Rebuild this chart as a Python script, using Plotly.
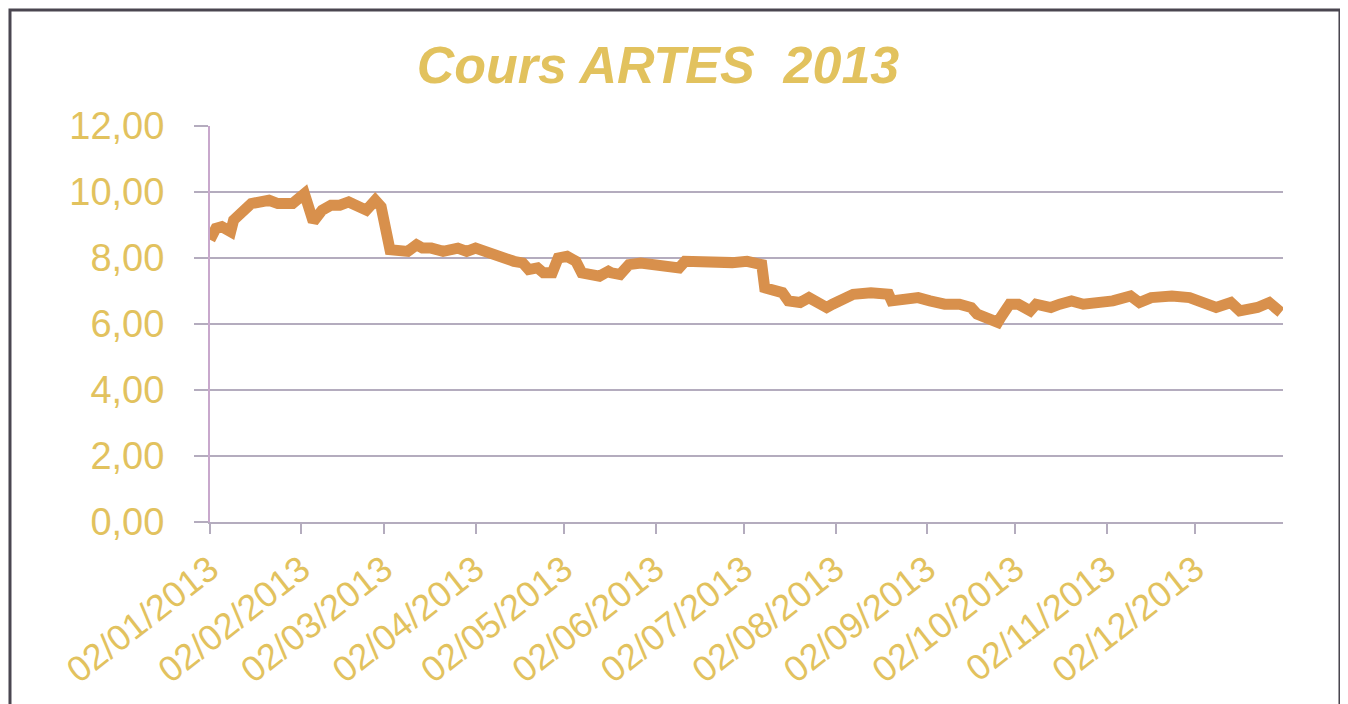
import plotly.graph_objects as go

dates = [
    "2013-01-02", "2013-01-04", "2013-01-06", "2013-01-09", "2013-01-10", "2013-01-13",
    "2013-01-16", "2013-01-22", "2013-01-25", "2013-01-30", "2013-02-01", "2013-02-03",
    "2013-02-06", "2013-02-09", "2013-02-12", "2013-02-15", "2013-02-18", "2013-02-22",
    "2013-02-24", "2013-02-27", "2013-03-01", "2013-03-04", "2013-03-07", "2013-03-10",
    "2013-03-13", "2013-03-15", "2013-03-18", "2013-03-22", "2013-03-27", "2013-03-30",
    "2013-04-02", "2013-04-07", "2013-04-10", "2013-04-15", "2013-04-18", "2013-04-20",
    "2013-04-23", "2013-04-25", "2013-04-28", "2013-04-30", "2013-05-03", "2013-05-06",
    "2013-05-08", "2013-05-13", "2013-05-14", "2013-05-17", "2013-05-18", "2013-05-21",
    "2013-05-24", "2013-05-28", "2013-06-01", "2013-06-06", "2013-06-10", "2013-06-12",
    "2013-06-17", "2013-06-23", "2013-06-28", "2013-07-03", "2013-07-08", "2013-07-09",
    "2013-07-13", "2013-07-15", "2013-07-17", "2013-07-21", "2013-07-24", "2013-07-28",
    "2013-07-30", "2013-08-01", "2013-08-04", "2013-08-08", "2013-08-14", "2013-08-20",
    "2013-08-21", "2013-08-25", "2013-08-30", "2013-09-03", "2013-09-08", "2013-09-13",
    "2013-09-17", "2013-09-19", "2013-09-22", "2013-09-26", "2013-09-27", "2013-09-30",
    "2013-10-03", "2013-10-07", "2013-10-09", "2013-10-14", "2013-10-17", "2013-10-21",
    "2013-10-25", "2013-10-30", "2013-11-04", "2013-11-10", "2013-11-13", "2013-11-17",
    "2013-11-24", "2013-11-30", "2013-12-06", "2013-12-09", "2013-12-14", "2013-12-17",
    "2013-12-23", "2013-12-27", "2013-12-31",
]
cours = [
    8.55, 8.9, 8.95, 8.8, 9.15, 9.45,
    9.65, 9.75, 9.65, 9.65, 9.8, 9.95,
    9.1, 9.45, 9.6, 9.6, 9.7, 9.5,
    9.45, 9.75, 9.55, 8.25, 8.2, 8.2,
    8.4, 8.3, 8.3, 8.2, 8.3, 8.2,
    8.3, 8.15, 8.0, 7.9, 7.85, 7.65,
    7.7, 7.55, 7.55, 8.0, 8.05, 7.9,
    7.55, 7.4, 7.45, 7.6, 7.55, 7.5,
    7.8, 7.85, 7.8, 7.7, 7.7, 7.9,
    7.88, 7.84, 7.86, 7.9, 7.8, 7.1,
    7.0, 6.95, 6.7, 6.65, 6.8, 6.65,
    6.5, 6.6, 6.75, 6.9, 6.95, 6.9,
    6.7, 6.75, 6.8, 6.7, 6.6, 6.6,
    6.5, 6.3, 6.2, 6.05, 6.2, 6.6,
    6.6, 6.4, 6.6, 6.5, 6.6, 6.7,
    6.6, 6.65, 6.7, 6.85, 6.65, 6.8,
    6.85, 6.8, 6.65, 6.5, 6.65, 6.4,
    6.5, 6.65, 6.35,
]

x_tick_vals = ["2013-%02d-02" % m for m in range(1, 13)]
x_tick_text = ["02/%02d/2013" % m for m in range(1, 13)]
y_tick_vals = [0, 2, 4, 6, 8, 10, 12]
y_tick_text = ["0,00", "2,00", "4,00", "6,00", "8,00", "10,00", "12,00"]

gold = "#E2C25E"
grid = "#B4ACBE"

fig = go.Figure()
fig.add_trace(go.Scatter(
    x=dates, y=cours, mode="lines",
    line=dict(color="#D8904C", width=11, shape="linear"),
    showlegend=False, hoverinfo="skip",
))

fig.update_layout(
    width=1348, height=704,
    margin=dict(l=202, r=73, t=118, b=190),
    paper_bgcolor="white", plot_bgcolor="white",
    title=dict(
        text="<b><i>Cours ARTES  2013</i></b>",
        x=0.4175, xref="paper", xanchor="center",
        y=0.919, yref="container", yanchor="middle",
        font=dict(family="Liberation Sans, Arial, sans-serif", size=52, color=gold),
    ),
    xaxis=dict(
        type="date",
        range=["2013-01-02", "2013-12-31 16:00"],
        tickvals=x_tick_vals, ticktext=x_tick_text,
        tickangle=-38,
        tickfont=dict(family="Liberation Sans, Arial, sans-serif", size=36, color=gold),
        showgrid=False, zeroline=False,
        showline=True, linecolor=grid, linewidth=2,
        ticks="outside", ticklen=10, tickcolor=grid, tickwidth=2,
        ticklabelstandoff=0,
    ),
    yaxis=dict(
        range=[0, 12],
        tickvals=y_tick_vals, ticktext=y_tick_text,
        tickfont=dict(family="Liberation Sans, Arial, sans-serif", size=38, color=gold),
        showgrid=True, gridcolor=grid, gridwidth=2,
        zeroline=False,
        showline=True, linecolor="#C8A8CC", linewidth=2,
        ticks="outside", ticklen=14, tickcolor=grid, tickwidth=2,
        ticklabelstandoff=22,
    ),
    shapes=[dict(
        type="rect", xref="paper", yref="paper",
        x0=-0.1864, x1=1.0531, y0=-0.48, y1=1.2929,
        line=dict(color="#4A4650", width=3), fillcolor="rgba(0,0,0,0)", layer="below",
    )],
)

fig.write_html("out.html")
